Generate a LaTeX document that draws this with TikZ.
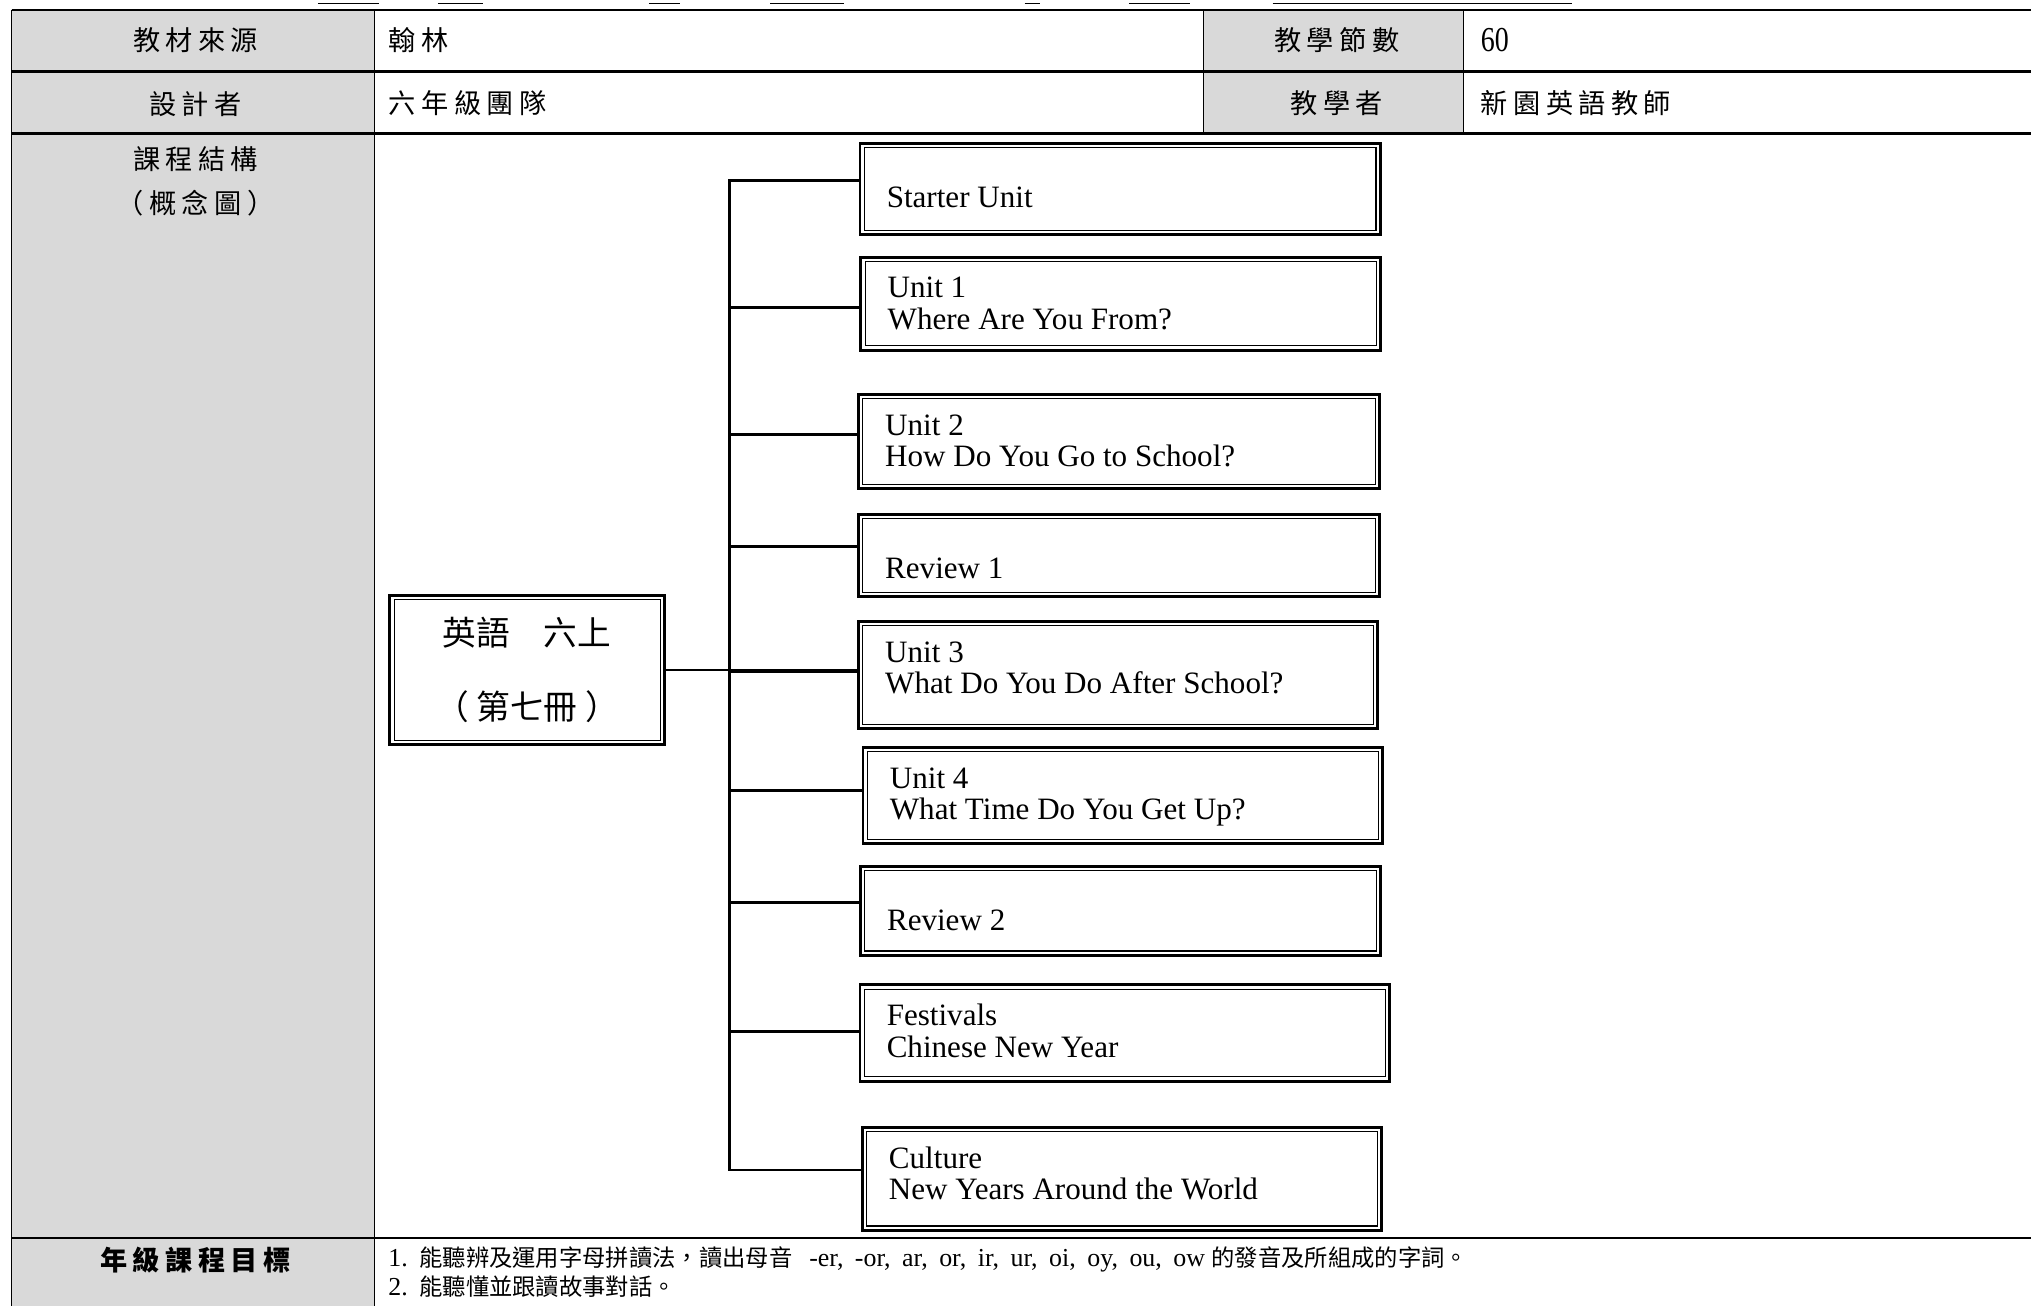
\documentclass[tikz,border=0pt]{standalone}
\usepackage{fontspec}
\usepackage{graphicx}
\setmainfont{Liberation Serif}
\newfontfamily\cjk{Noto Sans CJK TC}
\newfontfamily\cjktab[LetterSpace=20]{Noto Sans CJK TC}
\newcommand\goalzh[1]{{\cjk\fontsize{18}{18}\selectfont #1}}

\definecolor{cellgray}{HTML}{D9D9D9}

\tikzset{
	rule/.style={line width=1.8pt},
	colrule/.style={line width=1pt},
	headcell/.style={font=\fontsize{21}{21}\selectfont\cjktab, inner sep=0pt},
	bodycell/.style={headcell, anchor=west},
	goaltext/.style={font=\fontsize{20}{20}\selectfont, inner sep=0pt, anchor=base west},
	unitbox/.style={draw, line width=2.2pt, inner sep=0pt, outer sep=0pt},
	frame/.style={line width=0.8pt},
	unittext/.style={font=\fontsize{24}{24.5}\selectfont, align=left, anchor=north west, inner sep=0pt},
	link/.style={line width=2.2pt, line cap=rect},
}

\begin{document}
\begin{tikzpicture}[x=1pt, y=-1pt]
	\useasboundingbox (0, 0) rectangle (1568, 1008);

	% underlines of the cut-off title line
	\foreach \a/\b in {245.5/292.6, 338/373, 501/525, 594.5/651.6, 791/803, 871.6/918.8, 982.5/1213.3}
		\draw[line width=1pt] (\a, 2.6) -- (\b, 2.6);

	% table
	\fill[cellgray] (9, 7.5) rectangle (289, 1008);
	\fill[cellgray] (929, 7.5) rectangle (1130, 103);
	\foreach \y in {7.5, 55.3, 103, 956}
		\draw[rule] (9, \y) -- (1568, \y);
	\foreach \x in {9, 289}
		\draw[colrule] (\x, 7.5) -- (\x, 1008);
	\foreach \x in {929, 1130}
		\draw[colrule] (\x, 7.5) -- (\x, 103);

	\node[headcell] (src-h) at (151, 31) {教材來源};
	\node[bodycell] (src) at (300, 31) {翰林};
	\node[headcell] (hrs-h) at (1032, 31) {教學節數};
	\node[bodycell] (hrs) at (1143, 31) {\scalebox{0.8}[1]{\rmfamily\fontsize{27}{27}\selectfont 60}};
	\node[headcell] (des-h) at (151, 80) {設計者};
	\node[bodycell] (des) at (300, 80) {六年級團隊};
	\node[headcell] (tch-h) at (1032, 80) {教學者};
	\node[bodycell] (tch) at (1143, 80) {新園英語教師};
	\node[headcell] (map-h) at (151, 123) {課程結構};
	\node[headcell] (map-h2) at (151, 157) {（概念圖）};
	\node[headcell, font=\fontsize{21}{21}\selectfont\cjktab\bfseries] (goal-h) at (151, 973) {年級課程目標};

	\node[goaltext] (goal1) at (299.6, 978)
		{1.\hspace{9pt}\goalzh{能聽辨及運用字母拼讀法，讀出母音}\hspace{13pt}{\spaceskip=8.9pt -er, -or, ar, or, ir, ur, oi, oy, ou, ow}\hspace{5pt}\goalzh{的發音及所組成的字詞。}};
	\node[goaltext] (goal2) at (299.6, 1000)
		{2.\hspace{9pt}\goalzh{能聽懂並跟讀故事對話。}};

	% concept map
	\node[unitbox, minimum width=212, minimum height=115.2, align=center,
		font=\cjk\fontsize{26}{57}\selectfont] (book) at (406.9, 517.3) {英語　六上\\（\hspace{6pt}第七冊\hspace{6pt}）};

	\foreach \n/\l/\t/\r/\b in {s0/662.8/109.4/1066.7/182.3, u1/663.5/197.6/1067/271.5,
			u2/661.6/303.5/1066/378.3, r1/661.6/395.8/1066/461.7, u3/661.6/478.7/1064.7/563.6,
			u4/665.2/576/1068.5/652.4, r2/663/667.8/1067/738.6, fe/662.8/759.2/1074/835.8,
			cu/664.5/869.3/1067.7/950.9}
		\node[unitbox, minimum width={\r-\l-2.2}, minimum height={\b-\t-2.2}] (\n)
			at ({(\l+\r)/2}, {(\t+\b)/2}) {};

	% inner line of the double frames
	\foreach \n in {book, s0, u1, u2, r1, u3, u4, r2, fe, cu}
		\draw[frame] ([shift={(3.3, 3.3)}]\n.north west) rectangle ([shift={(-3.3, -3.3)}]\n.south east);

	\foreach \n/\dy/\txt in {s0/32/{Starter Unit}, u1/14/{Unit 1\\Where Are You From?},
			u2/14/{Unit 2\\How Do You Go to School?}, r1/32/{Review 1},
			u3/14/{Unit 3\\What Do You Do After School?}, u4/14/{Unit 4\\What Time Do You Get Up?},
			r2/32/{Review 2}, fe/14/{Festivals\\Chinese New Year}, cu/14/{Culture\\New Years Around the World}}
		\node[unittext] (\n-t) at ([shift={(20.5, \dy)}]\n.north west) {\strut\txt};

	% tree lines
	\coordinate (trunk) at (563, 0);
	\foreach \n/\c in {s0/139.5, u1/237.5, u2/335.3, r1/422, u3/518.6, u4/610, r2/697, fe/796.5, cu/903.3} {
		\coordinate (lvl) at (0, \c);
		\coordinate (\n-in) at (\n.west |- lvl);
		\draw[link] (trunk |- \n-in) -- (\n-in);
	}
	\draw[link] (trunk |- s0-in) -- (trunk |- cu-in);
	\draw[link] (book.east) -- (book.east -| u3.west);

\end{tikzpicture}
\end{document}
